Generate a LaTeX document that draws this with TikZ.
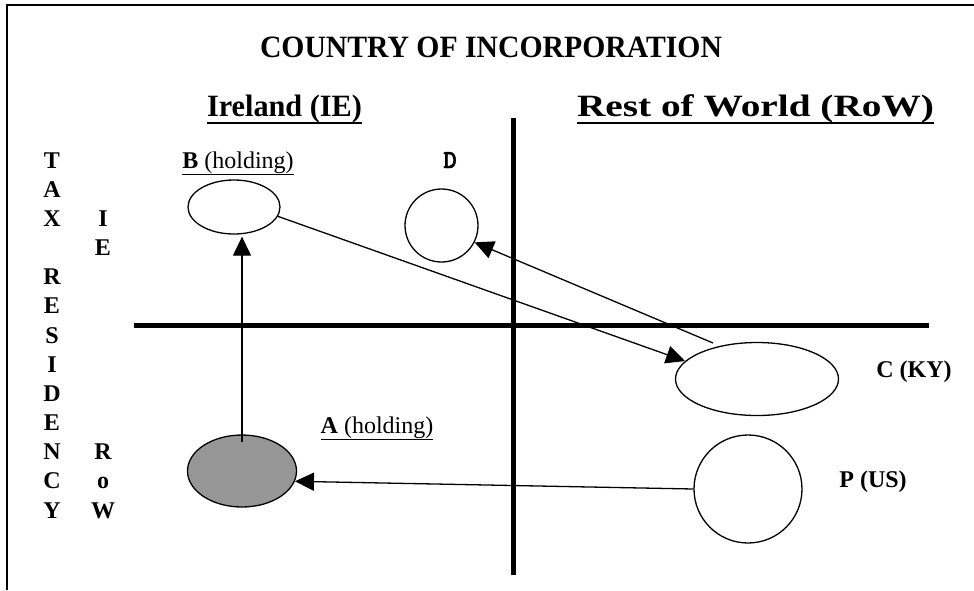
\documentclass[tikz,border=0pt]{standalone}
\usepackage{graphicx}
\usepackage{fontspec}
\setmainfont{Liberation Serif}
\newfontfamily\dlabelfont{lmmonolt10-bold.otf}[FakeBold=1.5]
\usetikzlibrary{shapes.geometric,arrows.meta}
\definecolor{holdfill}{RGB}{150,150,150}
\begin{document}
\begin{tikzpicture}[x=1pt,y=-1pt,
  frame/.style={line width=2pt},
  axis/.style={line width=5pt},
  firm/.style={draw, line width=1.3pt, ellipse, inner sep=0pt},
  link/.style={line width=1.3pt, -{Triangle[length=19pt,width=18pt]}},
  lbl/.style={inner sep=0pt, anchor=base, font=\fontsize{24}{28}\selectfont},
  head/.style={inner sep=0pt, anchor=base, font=\fontsize{31}{36}\selectfont\bfseries},
  rule/.style={line width=1.8pt},
  side/.style={inner sep=0pt, anchor=base, font=\fontsize{24}{29}\selectfont\bfseries},
]
\useasboundingbox (0,0) rectangle (974,590);

% outer frame (top and left edges)
\coordinate (fBL) at (7,590);
\coordinate (fTL) at (7,5);
\coordinate (fTR) at (974,5);
\draw[frame] (fBL) -- (fTL) -- (fTR);

% headings
\node[head] (title) at (491,57) {\resizebox{462pt}{\height}{COUNTRY OF INCORPORATION}};
\node[head] (ie) at (284.5,116) {\resizebox{155pt}{\height}{Ireland (IE)}};
\node[head] (row) at (755.5,116) {\resizebox{357pt}{\height}{Rest of World (RoW)}};
\draw[rule] ([yshift=-7pt]ie.base west) -- ([yshift=-7pt]ie.base east);
\draw[rule] ([yshift=-7pt]row.base west) -- ([yshift=-7pt]row.base east);

% vertical axis caption: TAX RESIDENCY
\foreach \i/\t in {0/T,1/A,2/X,4/R,5/E,6/S,7/I,8/D,9/E,10/N,11/C,12/Y}
  \node[side, name=tr\i] at (52,{168+29.17*\i}) {\t};
% row captions: IE and RoW
\foreach \i/\t in {2/I,3/E,10/R,11/o,12/W}
  \node[side, name=rc\i] at (103,{168+29.17*\i}) {\t};

% quadrant axes
\coordinate (hL) at (134,325);
\coordinate (hR) at (929,325);
\coordinate (vT) at (513,118);
\coordinate (vB) at (513,575);
\draw[axis] (hL) -- (hR);
\draw[axis] (vT) -- (vB);

% companies
\node[firm, minimum width=92pt, minimum height=54pt] (B) at (234,207) {};
\node[firm, fill=holdfill, minimum width=109pt, minimum height=72pt] (A) at (242,471) {};
\node[firm, circle, minimum size=73pt] (D) at (441.5,225.5) {};
\node[firm, minimum width=163pt, minimum height=73pt] (C) at (757,379) {};
\node[firm, circle, minimum size=108pt] (P) at (748,489) {};

% company labels
\node[lbl] (Blbl) at (238,168) {\underline{\textbf{B} (holding)}};
\node[lbl] (Albl) at (377,433) {\underline{\textbf{A} (holding)}};
\node[lbl, font=\fontsize{26}{28}\selectfont\dlabelfont] (Dlbl) at (450,168) {D};
\node[lbl, font=\fontsize{24}{28}\selectfont\bfseries] (Clbl) at (914,377) {C (KY)};
\node[lbl, font=\fontsize{24}{28}\selectfont\bfseries] (Plbl) at (873,487) {P (US)};

% ownership / transfer arrows
\coordinate (Astart) at ([yshift=-8pt]A.north);
\path (A.north |- B.south) coordinate (Bhit);
\coordinate (Btip) at ([yshift=-2pt]Bhit);
\draw[link] (Astart) -- (Btip);
\draw[link] (B.-12) -- (C.166);
\coordinate (Cfree) at (713,343);
\draw[link] (Cfree) -- (D.-27);
\draw[link] (P.west) -- (A.-11);
\end{tikzpicture}
\end{document}
